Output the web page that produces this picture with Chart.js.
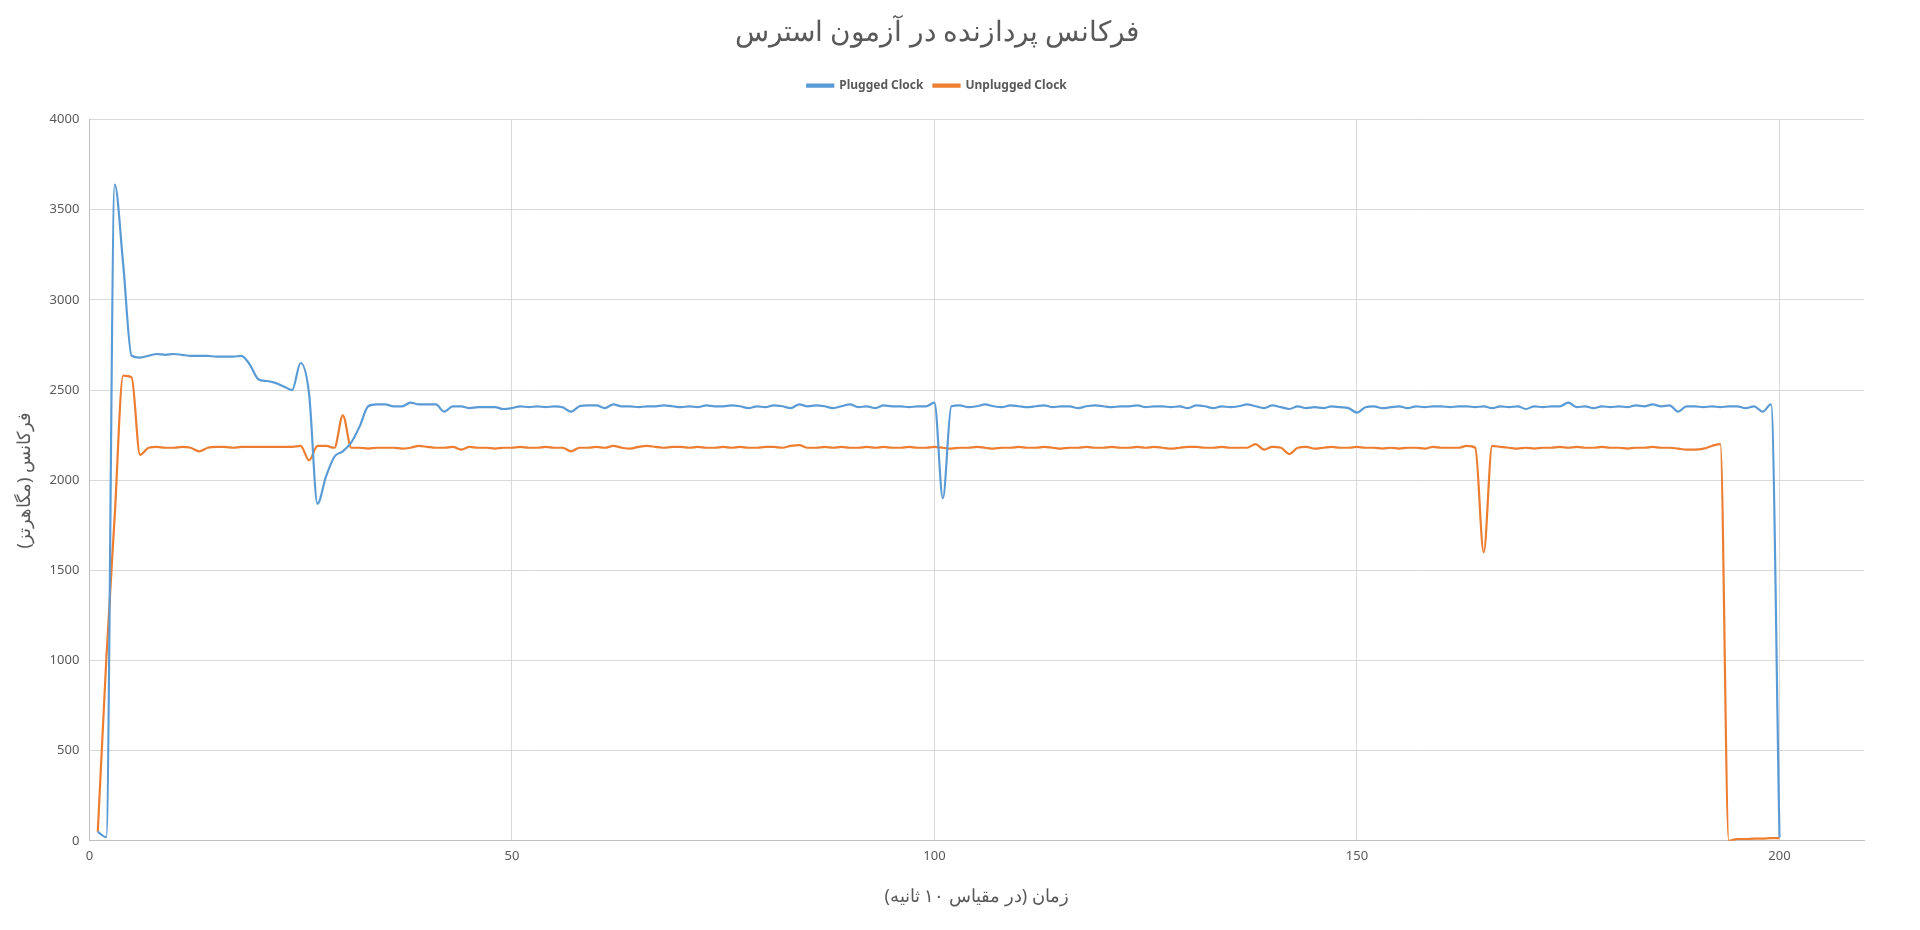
<!DOCTYPE html>
<html>
<head>
<meta charset="utf-8">
<script src="https://cdn.jsdelivr.net/npm/chart.js"></script>
<style>
  html, body { margin: 0; background: #fff; }
  #wrap { width: 1920px; height: 930px; }
</style>
</head>
<body>
<div id="wrap"><canvas id="c"></canvas></div>
<script>
const chartTitle = "فرکانس پردازنده در آزمون استرس";
const xTitle = "زمان (در مقیاس ۱۰ ثانیه)";
const yTitle = "فرکانس (مگاهرتز)";
const seriesNames = ["Plugged Clock", "Unplugged Clock"];

const pluggedClock = [
  50, 20, 3640, 3200, 2690, 2680, 2690, 2700, 2695, 2700,
  2695, 2690, 2690, 2690, 2685, 2685, 2685, 2690, 2640, 2560,
  2550, 2540, 2520, 2500, 2650, 2480, 1870, 2020, 2130, 2160,
  2210, 2300, 2410, 2420, 2420, 2410, 2410, 2430, 2420, 2420,
  2420, 2380, 2410, 2410, 2400, 2405, 2405, 2405, 2395, 2400,
  2410, 2405, 2410, 2405, 2410, 2405, 2380, 2410, 2415, 2415,
  2400, 2420, 2410, 2410, 2405, 2410, 2410, 2415, 2410, 2405,
  2410, 2405, 2415, 2410, 2410, 2415, 2410, 2400, 2410, 2405,
  2415, 2410, 2400, 2420, 2410, 2415, 2410, 2400, 2410, 2420,
  2405, 2410, 2400, 2415, 2410, 2410, 2405, 2410, 2410, 2430,
  1900, 2410, 2415, 2405, 2410, 2420, 2410, 2405, 2415, 2410,
  2405, 2410, 2415, 2405, 2410, 2410, 2400, 2410, 2415, 2410,
  2405, 2410, 2410, 2415, 2405, 2410, 2410, 2405, 2410, 2400,
  2415, 2410, 2400, 2410, 2405, 2410, 2420, 2410, 2400, 2415,
  2405, 2395, 2410, 2400, 2405, 2400, 2410, 2405, 2400, 2375,
  2405, 2410, 2400, 2405, 2410, 2400, 2410, 2405, 2410, 2410,
  2405, 2410, 2410, 2405, 2410, 2400, 2410, 2405, 2410, 2395,
  2410, 2405, 2410, 2410, 2430, 2405, 2410, 2400, 2410, 2405,
  2410, 2405, 2415, 2410, 2420, 2410, 2415, 2380, 2410, 2410,
  2405, 2410, 2405, 2410, 2410, 2400, 2410, 2380, 2420, 20
];

const unpluggedClock = [
  50, 1000, 1800, 2580, 2570, 2140, 2180, 2185, 2180, 2180,
  2185, 2180, 2160, 2180, 2185, 2185, 2180, 2185, 2185, 2185,
  2185, 2185, 2185, 2185, 2190, 2110, 2190, 2190, 2180, 2360,
  2180, 2180, 2175, 2180, 2180, 2180, 2175, 2180, 2190, 2185,
  2180, 2180, 2185, 2170, 2185, 2180, 2180, 2175, 2180, 2180,
  2185, 2180, 2180, 2185, 2180, 2180, 2160, 2180, 2180, 2185,
  2180, 2190, 2180, 2175, 2185, 2190, 2185, 2180, 2185, 2185,
  2180, 2185, 2180, 2180, 2185, 2180, 2185, 2180, 2180, 2185,
  2185, 2180, 2190, 2195, 2180, 2180, 2185, 2180, 2185, 2180,
  2180, 2185, 2180, 2185, 2180, 2180, 2185, 2180, 2180, 2185,
  2180, 2175, 2180, 2180, 2185, 2180, 2175, 2180, 2180, 2185,
  2180, 2180, 2185, 2180, 2175, 2180, 2180, 2185, 2180, 2180,
  2185, 2180, 2180, 2185, 2180, 2185, 2180, 2175, 2180, 2185,
  2185, 2180, 2180, 2185, 2180, 2180, 2180, 2200, 2170, 2185,
  2180, 2145, 2180, 2185, 2175, 2180, 2185, 2180, 2180, 2185,
  2180, 2180, 2175, 2180, 2175, 2180, 2180, 2175, 2185, 2180,
  2180, 2180, 2190, 2180, 1600, 2190, 2185, 2180, 2175, 2180,
  2175, 2180, 2180, 2185, 2180, 2185, 2180, 2180, 2185, 2180,
  2180, 2175, 2180, 2180, 2185, 2180, 2180, 2175, 2170, 2170,
  2175, 2190, 2200, 0, 10, 10, 12, 12, 15, 15
];

const xTicks = [0, 50, 100, 150, 200];

function toPoints(values) {
  return values.map((v, i) => ({ x: i + 1, y: v }));
}

// push the plot area down a bit below the legend
const legendGap = {
  id: "legendGap",
  beforeInit(chart) {
    const fit = chart.legend.fit;
    chart.legend.fit = function () {
      fit.bind(chart.legend)();
      this.height += 18;
    };
  }
};

new Chart(document.getElementById("c"), {
  type: "line",
  data: {
    datasets: [
      { label: seriesNames[0], data: toPoints(pluggedClock), borderColor: "#5b9bd5", backgroundColor: "#5b9bd5" },
      { label: seriesNames[1], data: toPoints(unpluggedClock), borderColor: "#ed7d31", backgroundColor: "#ed7d31" }
    ]
  },
  options: {
    responsive: true,
    maintainAspectRatio: false,
    animation: false,
    layout: { padding: { left: 10, right: 56, top: 10, bottom: 18 } },
    elements: {
      point: { radius: 0 },
      line: { borderWidth: 2.2, tension: 0.4, cubicInterpolationMode: "monotone" }
    },
    plugins: {
      title: {
        display: true, text: chartTitle, color: "#595959",
        font: { family: "Noto Sans", size: 28, weight: "normal" },
        padding: { top: 6, bottom: 20 }
      },
      legend: {
        labels: {
          color: "#595959", boxWidth: 26, boxHeight: 2,
          font: { family: "Noto Sans", size: 12, weight: "bold" }
        }
      },
      tooltip: { enabled: false }
    },
    scales: {
      x: {
        type: "linear", min: 0, max: 210,
        afterBuildTicks: axis => { axis.ticks = xTicks.map(v => ({ value: v })); },
        ticks: { color: "#595959", font: { family: "Noto Sans", size: 13 }, padding: 8 },
        grid: { color: "#d9d9d9", drawTicks: false },
        border: { color: "#bfbfbf" },
        title: { display: true, text: xTitle, color: "#595959", font: { family: "Noto Sans", size: 18 }, padding: { top: 14 } }
      },
      y: {
        min: 0, max: 4000,
        ticks: { stepSize: 500, color: "#595959", font: { family: "Noto Sans", size: 13 }, padding: 10, callback: v => String(v) },
        grid: { color: "#d9d9d9", drawTicks: false },
        border: { color: "#bfbfbf" },
        title: { display: true, text: yTitle, color: "#595959", font: { family: "Noto Sans", size: 18 } }
      }
    }
  },
  plugins: [legendGap]
});
</script>
</body>
</html>
